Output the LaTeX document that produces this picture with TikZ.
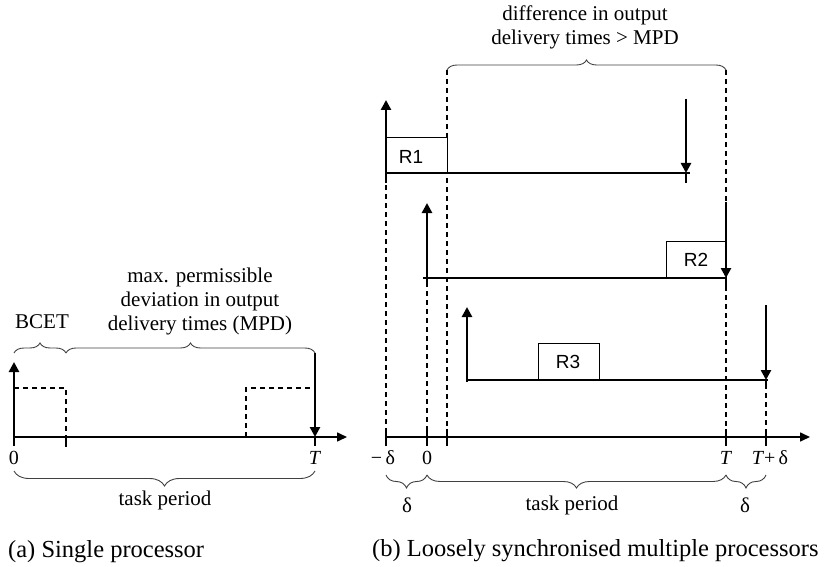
\documentclass[tikz,border=0pt]{standalone}
\usepackage{fontspec}
\setmainfont{Liberation Serif}
\newfontfamily\labelsans{Liberation Sans}
\usetikzlibrary{arrows.meta,decorations.pathreplacing}
\begin{document}
\begin{tikzpicture}[x=1pt,y=-1pt,
  axisline/.style={line width=1.6pt,-{Triangle[length=10pt,width=9pt]}},
  taskline/.style={line width=1.8pt},
  evt/.style={line width=2.6pt},
  evtarrow/.style={line width=2.6pt,-{Triangle[length=10pt,width=10pt]}},
  tickmark/.style={line width=2pt},
  guide/.style={line width=1.1pt,dash pattern=on 5pt off 4pt},
  runbox/.style={draw,line width=0.9pt,fill=white},
  runlabel/.style={inner sep=0pt,font=\labelsans\fontsize{19}{19}\selectfont},
  curly/.style={decorate,decoration={brace,amplitude=#1},draw=black!75,line width=0.9pt},
  lbl/.style={inner sep=0pt,font=\fontsize{21}{24}\selectfont,align=center},
  ticklbl/.style={inner sep=0pt,font=\fontsize{20}{20}\selectfont},
  caption/.style={inner sep=0pt,anchor=base west,font=\fontsize{24.5}{26}\selectfont}
]
\path[use as bounding box] (0,0) rectangle (830,567);

% ---------------- (a) single processor ----------------
\coordinate (aO) at (14,437);
\coordinate (aB) at (66,437);
\coordinate (aS) at (246,437);
\coordinate (aT) at (315,437);
\coordinate (aEnd) at (347,437);
\coordinate (aUp) at (14,362);
\coordinate (aDn) at (315,353);

% dashed execution windows
\draw[guide] (14,388) -- (66,388) -- (aB);
\draw[guide] (aS) -- (246,388) -- (315,388);

% time axis
\draw[axisline] (aO) -- (aEnd);
\draw[tickmark] (aB) -- (66,447);
\draw[evt] (aT) -- (315,446);

% release and delivery
\draw[evtarrow] (14,446) -- (aUp);
\draw[evtarrow] (aDn) -- (aT);

\node[ticklbl] (a0lbl) at (14,458) {0};
\node[ticklbl] (aTlbl) at (315,458) {\textit{T}};

% braces
\draw[curly=10pt] (14,353) -- (66,353);
\draw[curly=10pt] (66,353) -- (315,353);
\node[lbl] (bcet) at (42,322) {BCET};
\node[lbl] (mpd) at (200,301) {max. permissible\\deviation in output\\delivery times (MPD)};
\draw[curly=15pt] (315,471) -- (14,471);
\node[lbl] (aperiod) at (165,500) {task period};

\node[caption] (capa) at (8,557) {(a) Single processor};

% ---------------- (b) loosely synchronised ----------------
\coordinate (bm) at (386,437);
\coordinate (b0) at (427,437);
\coordinate (bq) at (447,437);
\coordinate (bT) at (726,437);
\coordinate (bTd) at (766,437);
\coordinate (bEnd) at (810,437);

% guide lines down to the axis
\draw[guide] (386,176) -- (bm);
\draw[guide] (427,282) -- (b0);
\draw[guide] (447,70) -- (bq);
\draw[guide] (726,70) -- (bT);
\draw[guide] (766,384) -- (bTd);

% replica R1
\node[runbox,minimum width=61pt,minimum height=36pt,inner sep=0pt] (r1box) at (416.5,155) {};
\node[runlabel] (r1) at (411,157) {R1};
\draw[taskline] (386,173) -- (690,173);
\draw[evtarrow] (386,183) -- (386,100);
\draw[evt] (686,173) -- (686,183);
\draw[evtarrow] (686,99) -- (686,173);

% replica R2
\node[runbox,minimum width=60pt,minimum height=37pt,inner sep=0pt] (r2box) at (696,259.5) {};
\node[runlabel] (r2) at (696,260) {R2};
\draw[taskline] (423,278) -- (726,278);
\draw[evtarrow] (427,287) -- (427,203);
\draw[evt] (726,278) -- (726,287);
\draw[evtarrow] (726,202) -- (726,278);

% replica R3
\node[runbox,minimum width=61pt,minimum height=37pt,inner sep=0pt] (r3box) at (568.5,361.5) {};
\node[runlabel] (r3) at (568,362) {R3};
\draw[taskline] (467,380) -- (768,380);
\draw[evtarrow] (467,382) -- (467,307);
\draw[evt] (766,380) -- (766,388);
\draw[evtarrow] (766,305) -- (766,380);

% time axis
\draw[axisline] (bm) -- (bEnd);
\foreach \p in {bm,b0,bq,bT,bTd} \draw[tickmark] ([yshift=-9pt]\p) -- ([yshift=8pt]\p);

\node[ticklbl] (bmlbl) at (383,458) {−\,δ};
\node[ticklbl] (b0lbl) at (427,458) {0};
\node[ticklbl] (bTlbl) at (726,458) {\textit{T}};
\node[ticklbl] (bTdlbl) at (770,458) {\textit{T}+\,δ};

% braces
\draw[curly=10pt] (447,70) -- (726,70);
\node[lbl] (diff) at (585,27) {difference in output\\delivery times > MPD};
\draw[curly=13pt] (427,475) -- (386,475);
\draw[curly=13pt] (726,475) -- (427,475);
\draw[curly=13pt] (766,475) -- (726,475);
\node[lbl] (d1) at (407,505) {δ};
\node[lbl] (bperiod) at (572,505) {task period};
\node[lbl] (d2) at (745,505) {δ};

\node[caption] (capb) at (372,556) {(b) Loosely synchronised multiple processors};
\end{tikzpicture}
\end{document}
